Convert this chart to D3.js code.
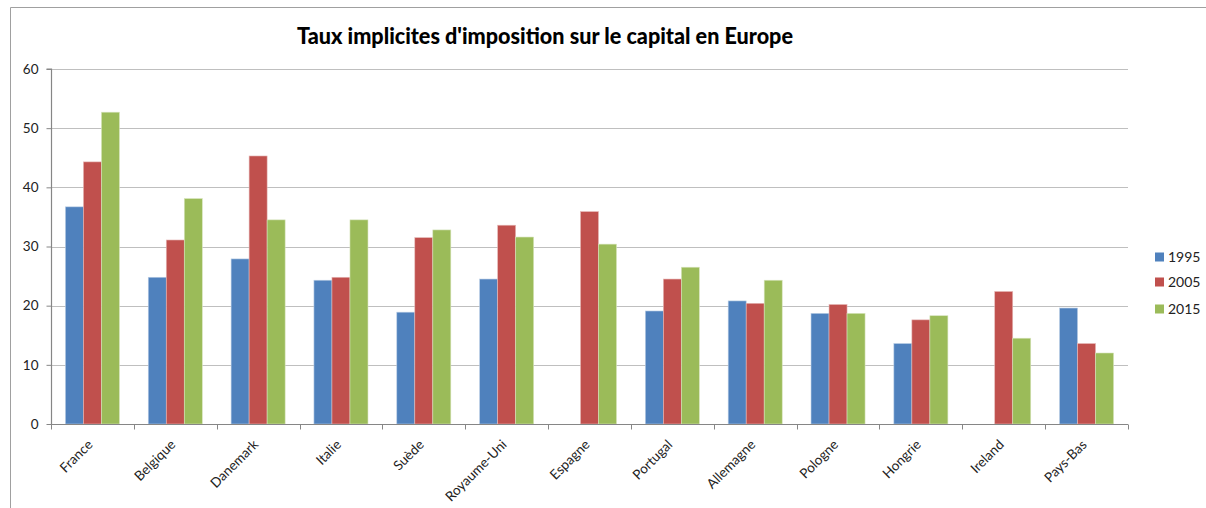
<!DOCTYPE html>
<html>
<head>
<meta charset="utf-8">
<script src="https://cdn.jsdelivr.net/npm/d3@7"></script>
<style>
  html, body { margin: 0; padding: 0; background: #fff; }
  svg { display: block; }
</style>
</head>
<body>
<svg id="chart" width="1206" height="508"></svg>
<script>
const categories = ["France", "Belgique", "Danemark", "Italie", "Suède", "Royaume-Uni", "Espagne", "Portugal", "Allemagne", "Pologne", "Hongrie", "Ireland", "Pays-Bas"];
const seriesNames = ["1995", "2005", "2015"];
const values1995 = [36.7, 24.8, 27.9, 24.3, 18.9, 24.5, null, 19.1, 20.8, 18.7, 13.6, null, 19.6];
const values2005 = [44.3, 31.1, 45.3, 24.8, 31.5, 33.6, 35.9, 24.5, 20.4, 20.2, 17.6, 22.4, 13.6];
const values2015 = [52.7, 38.1, 34.5, 34.5, 32.8, 31.6, 30.4, 26.5, 24.3, 18.7, 18.3, 14.5, 12.0];
const yTicks = [0, 10, 20, 30, 40, 50, 60];
const titleText = "Taux implicites d'imposition sur le capital en Europe";

const colors = ["#4F81BD", "#C0504D", "#9BBB59"];
const edgeColors = ["#B9CDE5", "#E6B9B8", "#D7E4BD"];
const allSeries = [values1995, values2005, values2015];

const svg = d3.select("#chart");
const font = "Lato, 'Open Sans', sans-serif";

// chart frame
svg.append("line").attr("x1", 10.5).attr("x2", 1206).attr("y1", 7.5).attr("y2", 7.5)
  .attr("stroke", "#A0A0A0").attr("stroke-width", 1);
svg.append("line").attr("x1", 10.5).attr("x2", 10.5).attr("y1", 7.5).attr("y2", 508)
  .attr("stroke", "#A0A0A0").attr("stroke-width", 1);

const plot = { left: 51, right: 1128, top: 69, bottom: 424 };

const x0 = d3.scaleBand().domain(categories).range([plot.left, plot.right]).paddingInner(0).paddingOuter(0);
const gapRatio = 1.6;
const barW = x0.bandwidth() / (3 + gapRatio);
const y = d3.scaleLinear().domain([0, 60]).range([plot.bottom, plot.top]);

// gridlines
svg.append("g").selectAll("line").data(yTicks.filter(d => d > 0)).join("line")
  .attr("x1", plot.left).attr("x2", plot.right)
  .attr("y1", d => Math.round(y(d)) + 0.5).attr("y2", d => Math.round(y(d)) + 0.5)
  .attr("stroke", "#BFBFBF").attr("stroke-width", 1.2);

// bars
const barsG = svg.append("g");
allSeries.forEach((vals, si) => {
  barsG.append("g").selectAll("rect")
    .data(categories.map((c, i) => ({ c, v: vals[i] })).filter(d => d.v != null))
    .join("rect")
    .attr("x", d => x0(d.c) + barW * gapRatio / 2 + si * barW)
    .attr("y", d => y(d.v))
    .attr("width", barW)
    .attr("height", d => y(0) - y(d.v))
    .attr("fill", colors[si])
    .attr("stroke", edgeColors[si])
    .attr("stroke-width", 0.6);
});

// y axis
const yAxis = d3.axisLeft(y).tickValues(yTicks).tickSize(5).tickPadding(8).tickFormat(d3.format("d"));
const yG = svg.append("g").attr("transform", `translate(${plot.left + 0.5},0)`).call(yAxis);
yG.select(".domain").attr("stroke", "#868686").attr("stroke-width", 1.2).attr("d", `M-5,${y(60)}H0V${y(0)}`);
yG.selectAll(".tick line").attr("stroke", "#868686");
yG.selectAll(".tick text").attr("font-family", font).attr("font-size", 13.5).attr("fill", "#222");

// x axis
const xG = svg.append("g").attr("transform", `translate(0,${plot.bottom + 0.5})`);
xG.append("line").attr("x1", plot.left).attr("x2", plot.right).attr("stroke", "#868686").attr("stroke-width", 1.2);
const boundaries = categories.map(c => x0(c)).concat([x0(categories[categories.length - 1]) + x0.bandwidth()]);
xG.selectAll("line.tk").data(boundaries).join("line").attr("class", "tk")
  .attr("x1", d => Math.round(d) + 0.5).attr("x2", d => Math.round(d) + 0.5)
  .attr("y1", 0).attr("y2", 5).attr("stroke", "#868686");
xG.selectAll("text").data(categories).join("text")
  .attr("transform", d => `translate(${x0(d) + x0.bandwidth() / 2 + 1},${21}) rotate(-45)`)
  .attr("text-anchor", "end")
  .attr("font-family", font).attr("font-size", 13.5).attr("fill", "#222")
  .text(d => d);

// title
svg.append("text").attr("x", 545).attr("y", 44)
  .attr("text-anchor", "middle").attr("font-family", font).attr("font-weight", "900")
  .attr("font-size", 23).attr("fill", "#000")
  .attr("textLength", 496).attr("lengthAdjust", "spacingAndGlyphs")
  .text(titleText);

// legend
const lg = svg.append("g");
seriesNames.forEach((s, i) => {
  const cy = [257, 282, 309][i];
  lg.append("rect").attr("x", 1155).attr("y", cy - 4.5).attr("width", 9).attr("height", 9).attr("fill", colors[i]);
  lg.append("text").attr("x", 1168).attr("y", cy + 5).attr("font-family", font).attr("font-size", 14).attr("fill", "#222").text(s);
});
</script>
</body>
</html>
